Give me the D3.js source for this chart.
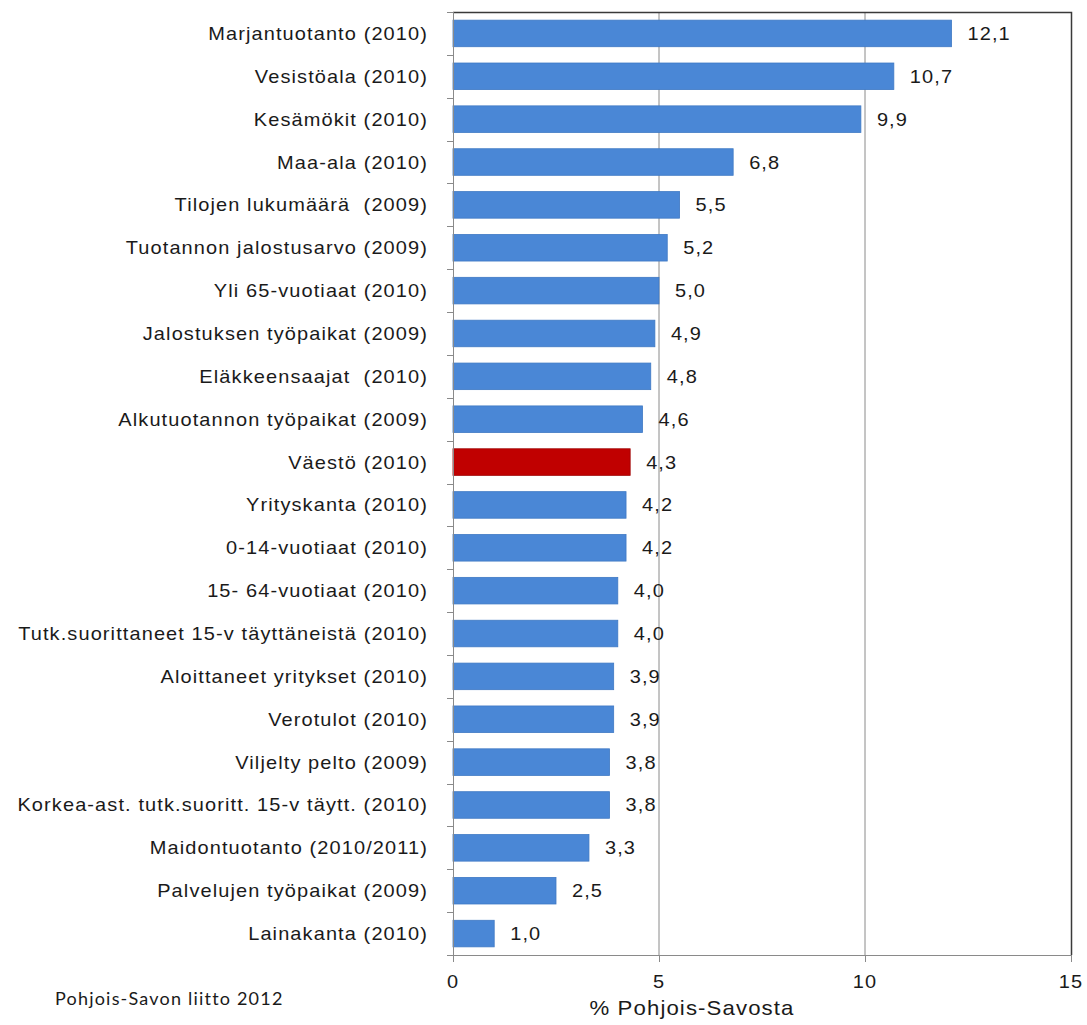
<!DOCTYPE html>
<html>
<head>
<meta charset="utf-8">
<script src="https://cdn.jsdelivr.net/npm/d3@7"></script>
<style>
  body { margin: 0; background: #fff; }
  text { font-family: "Liberation Sans", Arial, sans-serif; fill: #1a1a1a; white-space: pre; }
</style>
</head>
<body>
<svg id="chart" width="1087" height="1025"></svg>
<script>
const categories = [
  "Marjantuotanto (2010)",
  "Vesistöala (2010)",
  "Kesämökit (2010)",
  "Maa-ala (2010)",
  "Tilojen lukumäärä  (2009)",
  "Tuotannon jalostusarvo (2009)",
  "Yli 65-vuotiaat (2010)",
  "Jalostuksen työpaikat (2009)",
  "Eläkkeensaajat  (2010)",
  "Alkutuotannon työpaikat (2009)",
  "Väestö (2010)",
  "Yrityskanta (2010)",
  "0-14-vuotiaat (2010)",
  "15- 64-vuotiaat (2010)",
  "Tutk.suorittaneet 15-v täyttäneistä (2010)",
  "Aloittaneet yritykset (2010)",
  "Verotulot (2010)",
  "Viljelty pelto (2009)",
  "Korkea-ast. tutk.suoritt. 15-v täytt. (2010)",
  "Maidontuotanto (2010/2011)",
  "Palvelujen työpaikat (2009)",
  "Lainakanta (2010)"
];
const values = [12.1, 10.7, 9.9, 6.8, 5.5, 5.2, 5.0, 4.9, 4.8, 4.6, 4.3, 4.2, 4.2, 4.0, 4.0, 3.9, 3.9, 3.8, 3.8, 3.3, 2.5, 1.0];
const highlight = ["Väestö (2010)"];
const xTicks = [0, 5, 10, 15];
const xTitle = "% Pohjois-Savosta";
const footer = "Pohjois-Savon liitto 2012";

const data = categories.map((c, i) => ({ c, v: values[i] }));
const svg = d3.select("#chart");
const L = 453, R = 1071, T = 12, B = 955;
const SX = 1.11;

const x = d3.scaleLinear().domain([0, 15]).range([L, R]);
const y = d3.scaleBand().domain(categories).range([T, B]).paddingInner(0.38).paddingOuter(0.19);
const yStep = d3.scaleBand().domain(categories).range([T, B]);

// gridlines
svg.append("g").selectAll("line").data(xTicks.filter(t => t > 0 && t < 15)).join("line")
  .attr("x1", d => x(d)).attr("x2", d => x(d)).attr("y1", T).attr("y2", B)
  .attr("stroke", "#8a8a8a").attr("stroke-width", 1);

// frame top/right
svg.append("path").attr("d", `M${L},${T + 0.5}H${R + 0.5}V${B}`)
  .attr("fill", "none").attr("stroke", "#3a3a3a").attr("stroke-width", 1.5);

// bars
svg.append("g").selectAll("rect").data(data).join("rect")
  .attr("x", x(0)).attr("y", d => y(d.c))
  .attr("width", d => x(d.v) - x(0)).attr("height", y.bandwidth())
  .attr("fill", d => highlight.includes(d.c) ? "#c00000" : "#4a87d6")
  .attr("stroke", d => highlight.includes(d.c) ? "#9e0000" : "#3f79c4")
  .attr("stroke-width", 0.8);

// value labels
svg.append("g").selectAll("text").data(data).join("text")
  .attr("transform", d => `translate(${x(d.v) + 16},${y(d.c) + y.bandwidth() / 2}) scale(${SX},1)`)
  .attr("dy", "0.36em")
  .style("font-size", "18px").style("letter-spacing", "1px")
  .text(d => d3.format(".1f")(d.v).replace(".", ","));

// y axis
const yAxis = svg.append("g");
yAxis.append("line").attr("x1", L + 0.5).attr("x2", L + 0.5).attr("y1", T).attr("y2", B)
  .attr("stroke", "#8a8a8a");
const bounds = categories.map(c => yStep(c)).concat([B]);
yAxis.selectAll("line.tick").data(bounds).join("line").attr("class", "tick")
  .attr("x1", L - 6).attr("x2", L).attr("y1", d => Math.round(d) + 0.5).attr("y2", d => Math.round(d) + 0.5)
  .attr("stroke", "#8a8a8a");
yAxis.selectAll("text").data(categories).join("text")
  .attr("transform", d => `translate(${L - 25},${yStep(d) + yStep.bandwidth() / 2}) scale(${SX},1)`)
  .attr("text-anchor", "end").attr("dy", "0.36em")
  .style("font-size", "18px").style("letter-spacing", "1px")
  .text(d => d);

// x axis
const xAxis = svg.append("g");
xAxis.append("line").attr("x1", L).attr("x2", R).attr("y1", B + 0.5).attr("y2", B + 0.5).attr("stroke", "#8a8a8a");
xAxis.selectAll("line.tick").data(xTicks).join("line").attr("class", "tick")
  .attr("x1", d => Math.round(x(d)) + 0.5).attr("x2", d => Math.round(x(d)) + 0.5)
  .attr("y1", B).attr("y2", B + 7).attr("stroke", "#8a8a8a");
xAxis.selectAll("text").data(xTicks).join("text")
  .attr("transform", d => `translate(${x(d)},${B + 27}) scale(${SX},1)`)
  .attr("text-anchor", "middle").attr("dy", "0.36em")
  .style("font-size", "18px").style("letter-spacing", "1px")
  .text(d => d);

svg.append("text")
  .attr("transform", `translate(692,1008) scale(${SX},1)`)
  .attr("text-anchor", "middle").attr("dy", "0.36em")
  .style("font-size", "20px").style("letter-spacing", "1px")
  .text(xTitle);

svg.append("text")
  .attr("x", 55).attr("y", 999).attr("dy", "0.36em")
  .style("font-family", "Lato, 'Open Sans', sans-serif")
  .style("font-size", "18px").style("letter-spacing", "1.2px")
  .text(footer);
</script>
</body>
</html>
